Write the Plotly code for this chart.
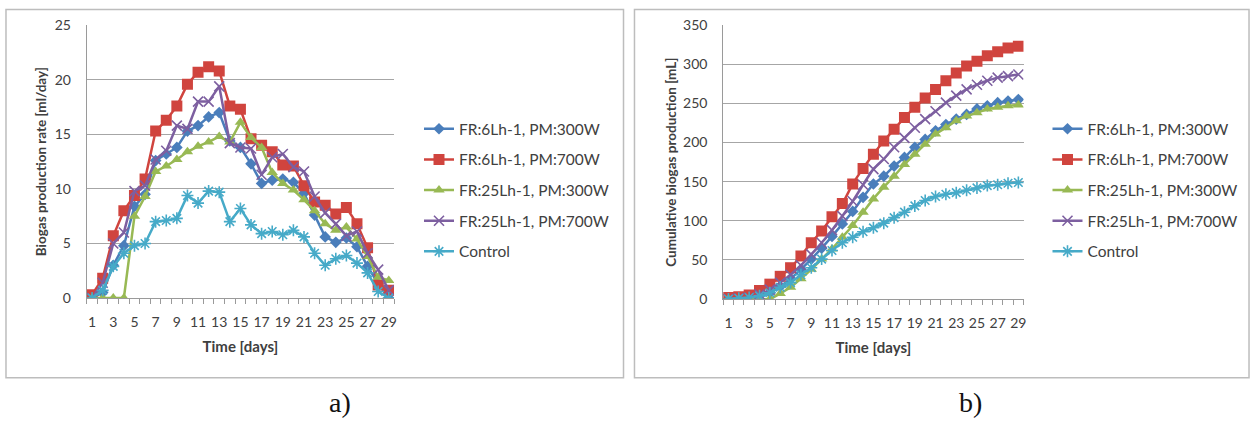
import plotly.graph_objects as go

W, H = 1258, 422

days = list(range(1, 30))
tick_days = [1, 3, 5, 7, 9, 11, 13, 15, 17, 19, 21, 23, 25, 27, 29]
tick_labels = [str(d) for d in tick_days]

series_names = ["FR:6Lh-1, PM:300W", "FR:6Lh-1, PM:700W", "FR:25Lh-1, PM:300W",
                "FR:25Lh-1, PM:700W", "Control"]

# a) Biogas production rate [ml/day]
rate_fr6_300 = [0, 0.5, 3.0, 4.8, 8.4, 9.5, 12.6, 13.2, 13.8, 15.3, 15.8, 16.6, 17.0, 14.4, 13.8,
                12.3, 10.5, 10.8, 10.9, 10.6, 9.6, 7.6, 5.6, 5.1, 5.5, 4.7, 2.9, 1.3, 0.0]
rate_fr6_700 = [0.3, 1.8, 5.7, 8.0, 9.4, 10.9, 15.3, 16.3, 17.6, 19.6, 20.7, 21.2, 20.8, 17.6, 17.3,
                14.6, 14.0, 13.4, 12.2, 12.1, 10.3, 8.8, 8.5, 7.7, 8.3, 6.8, 4.6, 1.2, 0.7]
rate_fr25_300 = [0, 0, 0, 0, 7.5, 9.3, 11.6, 12.1, 12.7, 13.4, 13.9, 14.3, 14.8, 14.3, 16.1,
                 14.7, 13.8, 11.5, 10.5, 9.9, 9.0, 8.0, 6.8, 6.2, 6.5, 5.4, 3.8, 1.9, 1.6]
rate_fr25_700 = [0, 1.4, 5.0, 6.0, 9.8, 10.3, 12.7, 13.5, 15.8, 15.5, 18.0, 18.0, 19.4, 14.2, 13.8,
                 13.7, 11.3, 12.9, 13.2, 12.0, 11.6, 9.3, 7.8, 6.8, 5.7, 6.1, 4.1, 2.6, 0.7]
rate_control = [0, 0.7, 2.9, 4.1, 4.8, 5.0, 7.0, 7.1, 7.3, 9.4, 8.7, 9.8, 9.7, 7.0, 8.2,
                6.7, 5.9, 6.1, 5.8, 6.2, 5.6, 4.1, 3.0, 3.6, 3.9, 3.2, 2.3, 0.6, 0.0]

# b) Cumulative biogas production [mL]
cum_fr6_300 = [0, 0, 1, 4, 8, 16, 26, 38, 51, 65, 80, 96, 112, 130, 147,
               157, 170, 181, 194, 204, 215, 223, 230, 236, 243, 247, 251, 253, 255]
cum_fr6_700 = [2, 3, 5, 11, 19, 29, 40, 55, 72, 87, 105, 122, 147, 167, 185,
               202, 217, 232, 245, 257, 268, 279, 289, 298, 304, 311, 316, 321, 323]
cum_fr25_300 = [0, 0, 0, 0, 0, 7, 15, 26, 38, 51, 64, 79, 94, 111, 128,
                143, 157, 172, 185, 198, 211, 219, 228, 234, 238, 243, 245, 247, 248]
cum_fr25_700 = [0, 1, 2, 6, 12, 21, 31, 43, 57, 72, 88, 106, 125, 146, 166,
                179, 194, 206, 219, 230, 240, 251, 260, 268, 274, 279, 283, 285, 287]
cum_control = [0, 1, 2, 4, 8, 15, 21, 31, 40, 51, 62, 72, 79, 86, 91,
               97, 104, 111, 119, 126, 131, 134, 136, 139, 142, 145, 146, 148, 149]

colors = ["#4A7EBB", "#D0443E", "#98B954", "#7D5FA0", "#46AAC8"]
symbols = ["diamond", "square", "triangle-up", "x-thin-open", "asterisk-open"]
msizes = [9, 11, 10, 10, 10]

rates = [rate_fr6_300, rate_fr6_700, rate_fr25_300, rate_fr25_700, rate_control]
cums = [cum_fr6_300, cum_fr6_700, cum_fr25_300, cum_fr25_700, cum_control]

FONT = "Lato"
TXT = "#404040"
GRID = "#A6A6A6"

fig = go.Figure()


def marker(i):
    m = dict(symbol=symbols[i], size=msizes[i], color=colors[i])
    if symbols[i].endswith("open"):
        m["line"] = dict(color=colors[i], width=1.6)
    return m


for i in range(5):
    fig.add_trace(go.Scatter(
        x=days, y=rates[i], name=series_names[i], mode="lines+markers",
        line=dict(color=colors[i], width=2.5), marker=marker(i),
        xaxis="x", yaxis="y", legend="legend", legendgroup="a%d" % i))
for i in range(5):
    fig.add_trace(go.Scatter(
        x=days, y=cums[i], name=series_names[i], mode="lines+markers",
        line=dict(color=colors[i], width=2.5, shape="spline", smoothing=0.6), marker=marker(i),
        xaxis="x2", yaxis="y2", legend="legend2", legendgroup="b%d" % i))


def px(x):
    return x / W


# the photographed page ends up slightly squeezed vertically; place items so they land right
def fy(y_target):
    return max(0.5, (y_target - 8.0) / 0.963)


def py(y_target):
    return 1 - fy(y_target) / H


xaxis_common = dict(
    range=[0.5, 29.5], tickmode="array", tickvals=tick_days, ticktext=tick_labels,
    ticks="", showgrid=False, zeroline=False, showline=True, linecolor="#9A9A9A", linewidth=1,
    tickfont=dict(family=FONT, size=14, color=TXT), ticklabelstandoff=11,
    minor=dict(tickmode="linear", tick0=0.5, dtick=1, ticks="outside", ticklen=5,
               tickcolor="#9A9A9A", showgrid=False),
    title=dict(text="<b>Time [days]</b>", font=dict(family=FONT, size=15, color=TXT), standoff=12),
    fixedrange=True,
)
yaxis_common = dict(
    showgrid=True, gridcolor=GRID, gridwidth=1, zeroline=False, showline=True,
    linecolor="#9A9A9A", linewidth=1, ticks="",
    tickfont=dict(family=FONT, size=14, color=TXT), ticklabelstandoff=12,
)

fig.update_layout(
    width=W, height=H, margin=dict(l=0, r=0, t=0, b=0),
    paper_bgcolor="white", plot_bgcolor="white",
    xaxis=dict(domain=[px(87), px(395)], anchor="y", **xaxis_common),
    yaxis=dict(domain=[py(298), py(24.3)], anchor="x", range=[0, 25], dtick=5,
               title=dict(text="<b>Biogas production rate [ml/day]</b>",
                          font=dict(family=FONT, size=13.5, color=TXT), standoff=5),
               **yaxis_common),
    xaxis2=dict(domain=[px(725), px(1026)], anchor="y2", **xaxis_common),
    yaxis2=dict(domain=[py(299), py(24.3)], anchor="x2", range=[0, 350], dtick=50,
                title=dict(text="<b>Cumulative biogas production [mL]</b>",
                           font=dict(family=FONT, size=13.5, color=TXT), standoff=3),
                **yaxis_common),
    legend=dict(x=px(420), y=1 - 107.5 / H, xanchor="left", yanchor="top",
                font=dict(family=FONT, size=15.5, color=TXT), tracegroupgap=7.5,
                bgcolor="rgba(0,0,0,0)", itemclick=False, itemdoubleclick=False),
    legend2=dict(x=px(1050), y=1 - 107.5 / H, xanchor="left", yanchor="top",
                 font=dict(family=FONT, size=15.5, color=TXT), tracegroupgap=7.5,
                 bgcolor="rgba(0,0,0,0)", itemclick=False, itemdoubleclick=False),
    shapes=[
        dict(type="rect", xref="paper", yref="paper", x0=px(6), x1=px(625), y0=py(378), y1=py(6),
             line=dict(color="#BDBDBD", width=1.5), layer="below"),
        dict(type="rect", xref="paper", yref="paper", x0=px(636), x1=px(1252), y0=py(378), y1=py(6),
             line=dict(color="#BDBDBD", width=1.5), layer="below"),
    ],
    annotations=[
        dict(text="a)", xref="paper", yref="paper", x=px(341), y=py(403), showarrow=False,
             xanchor="center", yanchor="middle",
             font=dict(family="Liberation Serif", size=28, color="#111111")),
        dict(text="b)", xref="paper", yref="paper", x=px(973), y=py(403), showarrow=False,
             xanchor="center", yanchor="middle",
             font=dict(family="Liberation Serif", size=28, color="#111111")),
    ],
    showlegend=True,
)

fig.write_html(
    "out.html", config={"displayModeBar": False},
    post_script=("document.documentElement.style.margin='0';document.body.style.margin='0';"
                 "document.body.style.overflow='hidden';"
                 "var d=document.getElementById('{plot_id}');"
                 "d.style.position='fixed';d.style.top='0px';d.style.left='0px';"))
